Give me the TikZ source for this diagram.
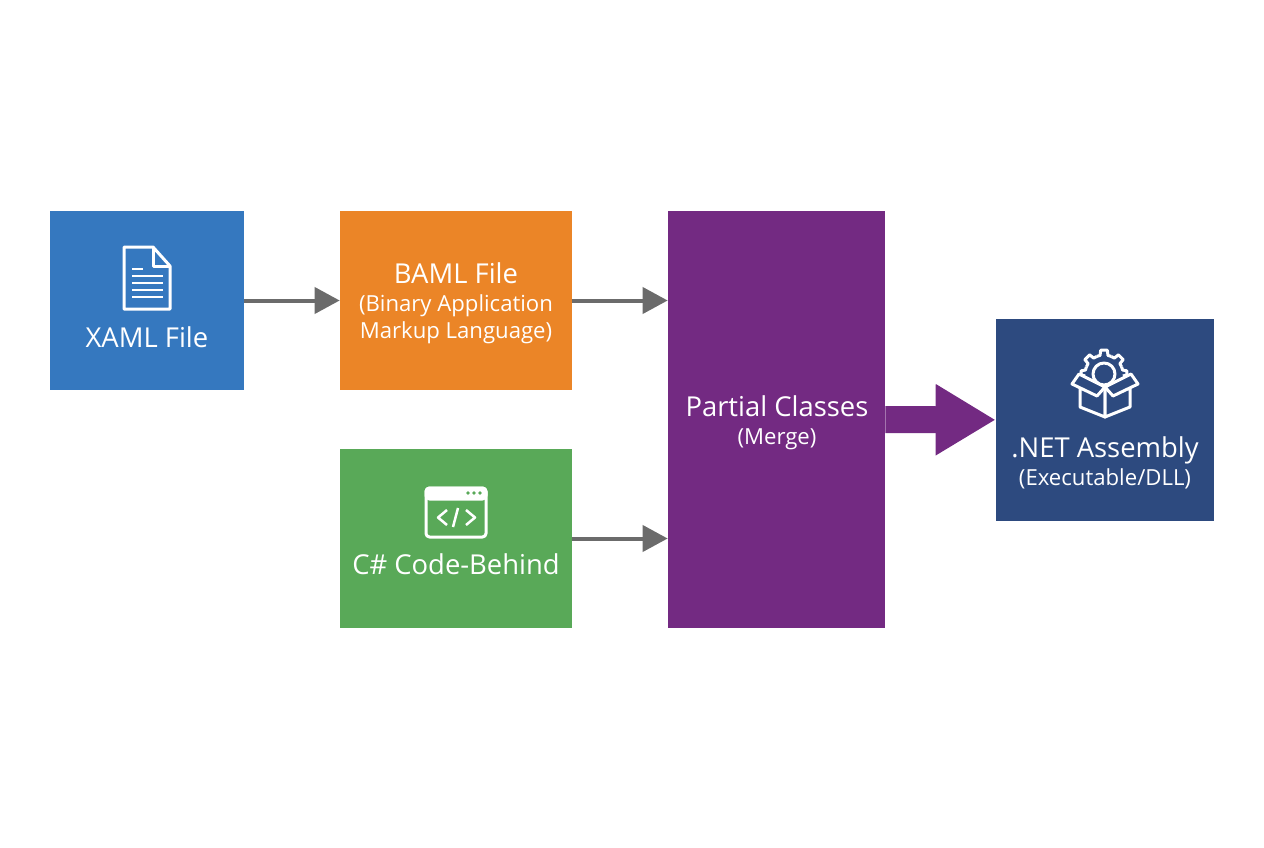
\documentclass[tikz,border=0pt]{standalone}
\usepackage{fontspec}
\setmainfont{Open Sans}
\usetikzlibrary{arrows.meta}
\definecolor{xamlblue}{HTML}{3578BF}
\definecolor{bamlorange}{HTML}{EB8527}
\definecolor{codegreen}{HTML}{59A958}
\definecolor{mergepurple}{HTML}{732A82}
\definecolor{netblue}{HTML}{2D4A7F}
\definecolor{flowgray}{HTML}{6B6B6B}
\tikzset{
  box/.style={draw=none,minimum width=#1,inner sep=0pt},
  bigtext/.style={text=white,anchor=base,font=\fontsize{15.6}{18}\selectfont},
  smalltext/.style={text=white,anchor=base,font=\fontsize{12.6}{15}\selectfont},
  flow/.style={draw=flowgray,line width=0.08cm,-{Triangle[length=0.5cm,width=0.52cm]}},
  icon/.style={draw=white,line width=0.06cm,line join=round,fill=none},
  thinicon/.style={icon,line width=0.05cm}
}
\begin{document}
\begin{tikzpicture}[x=0.02cm,y=-0.02cm]
  \useasboundingbox (0,0) rectangle (1264,848);
  % boxes
  \node[box=3.88cm,minimum height=3.58cm,fill=xamlblue] (xaml) at (147,300.5) {};
  \node[box=4.64cm,minimum height=3.58cm,fill=bamlorange] (baml) at (456,300.5) {};
  \node[box=4.64cm,minimum height=3.58cm,fill=codegreen] (code) at (456,538.5) {};
  \node[box=4.34cm,minimum height=8.34cm,fill=mergepurple] (partial) at (776.5,419.5) {};
  \node[box=4.36cm,minimum height=4.04cm,fill=netblue] (net) at (1105,420) {};
  % arrows
  \draw[flow] (xaml) -- (baml);
  \draw[flow] (baml) -- (baml -| partial.west);
  \draw[flow] (code) -- (code -| partial.west);
  \draw[draw=mergepurple,line width=0.54cm,-{Triangle[length=1.2cm,width=1.34cm]}] (partial) -- (net);
  % labels
  \node[bigtext] (xamltext) at (147,347) {XAML File};
  \node[bigtext] (bamltext) at (456,283) {BAML File};
  \node[smalltext] (bamlsub) at (456,311) {(Binary Application};
  \node[smalltext] (bamlsub2) at (456,338) {Markup Language)};
  \node[bigtext] (codetext) at (456,574) {C\# Code-Behind};
  \node[bigtext] (partialtext) at (777,416) {Partial Classes};
  \node[smalltext] (partialsub) at (777,444) {(Merge)};
  \node[bigtext] (nettext) at (1105,457) {.NET Assembly};
  \node[smalltext] (netsub) at (1105,485) {(Executable/DLL)};
  % document icon
  \draw[icon] (124,247)--(153,247)--(170,266)--(170,309)--(124,309)--cycle;
  \draw[icon] (153,247)--(153,266)--(170,266);
  \foreach \y in {276,283,290,297}
    \draw[thinicon] (132,\y)--(163,\y);
  \draw[thinicon] (132,269)--(143,269);
  % window icon
  \draw[icon,fill=white,rounded corners=2] (426,488) rectangle (486,499);
  \draw[icon,rounded corners=2] (426,488) rectangle (486,537);
  \foreach \x in {468,474,480}
    \fill[codegreen] (\x,493) circle (1.8);
  \draw[thinicon] (447,510)--(438,517.5)--(447,525);
  \draw[thinicon] (466,510)--(475,517.5)--(466,525);
  \draw[thinicon] (458,508)--(453,527);
  % assembly icon
  \begin{scope}[shift={(1104,374)}]
    \draw[icon] (0,0) circle (11);
    \foreach \a in {-45,-90,-135}
      \draw[icon] (\a-22.5:19)--(\a-12:19)--(\a-8:24)--(\a+8:24)--(\a+12:19)--(\a+22.5:19);
    \draw[icon] (-157.5:19)--(-168:19)--(-172:23)--(-182:23)--(-186:19);
    \draw[icon] (-22.5:19)--(-12:19)--(-8:23)--(2:23)--(6:19);
  \end{scope}
  \draw[icon,fill=netblue] (1105,387)--(1105,417)--(1080,407)--(1080,389)--cycle;
  \draw[icon,fill=netblue] (1105,387)--(1105,417)--(1130,407)--(1130,389)--cycle;
  \draw[icon,fill=netblue] (1105,387)--(1079,374)--(1072,384)--(1097,396)--cycle;
  \draw[icon,fill=netblue] (1105,387)--(1131,374)--(1138,384)--(1113,396)--cycle;
\end{tikzpicture}
\end{document}
